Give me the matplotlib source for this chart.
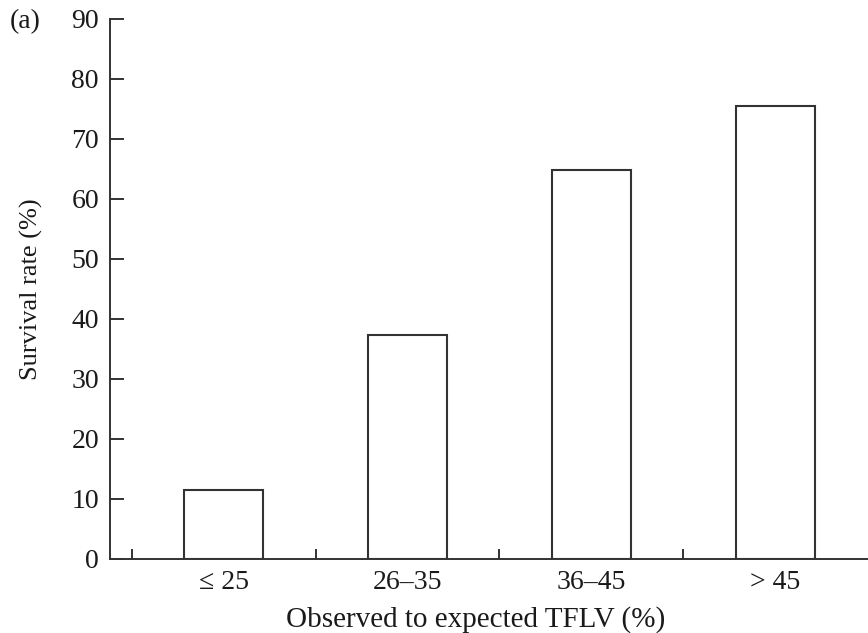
import matplotlib
matplotlib.use('Agg')
import matplotlib.pyplot as plt

plt.rcParams['font.family'] = ['Liberation Serif', 'DejaVu Serif']

# Survival rate by observed/expected TFLV group
categories = ['\u2264 25', '26\u201335', '36\u201345', '> 45']
survival = [11.5, 37.3, 64.9, 75.5]

ink = '#1a1a1a'
line = '#333333'

fig = plt.figure(figsize=(8.68, 6.33), dpi=100)
ax = fig.add_axes([110 / 868, 74 / 633, 758 / 868, 540 / 633])

x = list(range(len(categories)))
ax.bar(x, survival, width=0.43, facecolor='white', edgecolor=line, linewidth=1.5)

ax.set_xlim(-0.617, 3.503)
ax.set_ylim(0, 90)
ax.set_yticks(range(0, 91, 10))

# category labels at bar centres, tick marks on the group boundaries
ax.set_xticks(x)
ax.set_xticklabels(categories)
ax.set_xticks([i - 0.5 for i in x], minor=True)
ax.tick_params(axis='x', which='major', length=0, pad=8, labelsize=20, labelcolor=ink)
ax.tick_params(axis='x', which='minor', direction='in', length=7, width=1.4, color=line)
ax.tick_params(axis='y', direction='in', length=10, width=1.4, color=line,
               pad=8, labelsize=20, labelcolor=ink)

for side in ['top', 'right']:
    ax.spines[side].set_visible(False)
for side in ['left', 'bottom']:
    ax.spines[side].set_linewidth(1.4)
    ax.spines[side].set_color(line)

ax.set_xlabel('Observed to expected TFLV (%)', fontsize=21, color=ink)
ax.xaxis.set_label_coords(0.483, -0.088)
ax.set_ylabel('Survival rate (%)', fontsize=19, color=ink)
ax.yaxis.set_label_coords(-0.089, 0.5)

fig.text(10 / 868, 1 - 22 / 633, '(a)', fontsize=20, color=ink, va='center', ha='left')

fig.savefig('out.png', dpi=100)
